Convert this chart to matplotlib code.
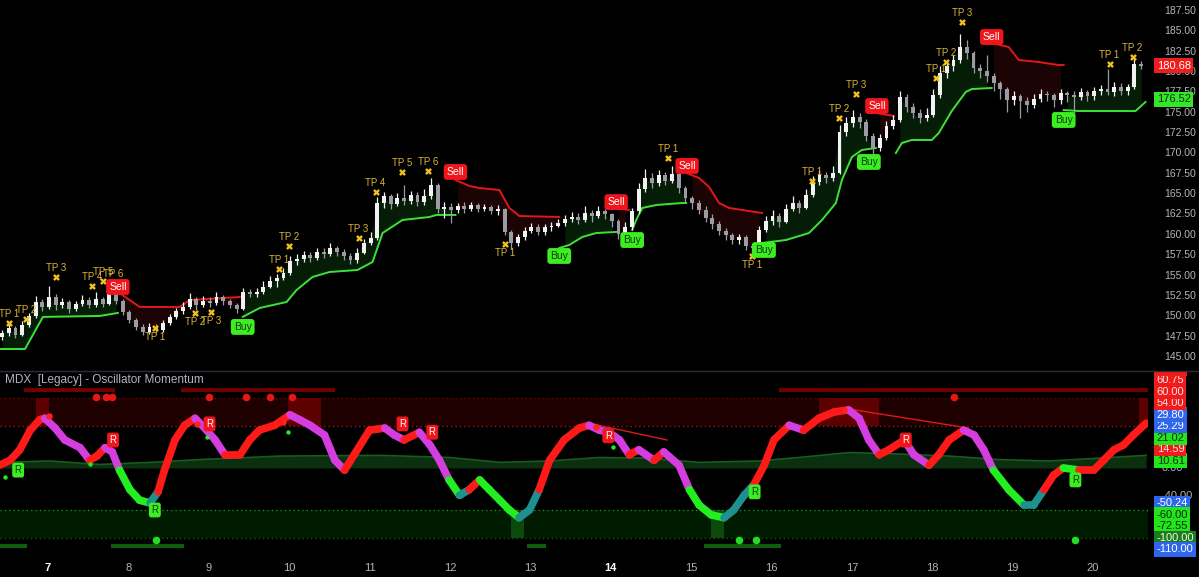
import numpy as np
import matplotlib
matplotlib.use("Agg")
import matplotlib.pyplot as plt
from matplotlib.collections import LineCollection
from matplotlib.transforms import Bbox, blended_transform_factory

plt.rcParams['font.family'] = ['Liberation Sans', 'DejaVu Sans']

# ---- price data (12 bars per day) ----
bars_per_day = 12
first_bar = 6.43
close = [147.8,148.4,147.6,148.8,149.9,151.6,151.0,152.2,151.2,151.6,
         150.8,151.4,151.9,151.3,152.0,151.4,152.6,151.8,150.4,149.4,
         148.6,148.0,148.5,148.2,149.0,149.8,150.5,151.0,152.0,151.2,
         151.8,151.5,152.2,151.8,151.2,150.8,152.8,152.6,152.9,153.5,
         154.2,154.6,155.2,156.7,156.9,157.4,157.0,157.8,157.5,158.2,
         157.8,157.3,156.8,157.6,158.9,159.5,163.8,164.6,163.7,164.4,
         164.0,164.8,163.9,164.6,166.0,163.0,163.3,162.9,163.4,163.0,
         163.5,163.1,163.3,162.8,163.0,160.2,158.9,159.6,160.4,160.9,
         160.2,160.8,161.0,161.3,161.8,162.1,161.7,162.5,162.2,162.8,
         162.4,161.6,160.0,160.9,162.8,165.5,166.8,166.3,167.2,166.5,
         167.4,165.6,164.4,163.8,162.9,162.0,161.2,160.4,159.8,159.2,
         159.6,158.5,158.2,160.5,161.6,162.2,161.5,163.0,163.8,163.2,
         164.8,166.4,167.2,166.8,167.5,172.5,173.6,174.3,173.8,172.0,
         170.6,171.8,173.3,174.0,176.8,175.6,174.8,174.2,174.6,177.0,
         179.8,180.6,181.4,183.0,182.2,180.4,180.0,179.4,178.5,177.8,
         176.5,176.9,176.3,175.8,176.6,177.2,177.0,176.4,177.3,177.0,
         176.8,177.4,176.9,177.5,177.8,177.4,178.1,177.6,178.0,180.9,
         180.68]
high = [148.2,148.9,148.7,149.3,150.3,152.4,152.0,153.6,152.6,152.1,
        151.9,151.8,152.5,152.2,152.8,152.3,153.3,153.0,152.0,150.6,
        149.7,148.9,149.0,148.9,149.4,150.2,150.9,151.6,152.7,152.3,
        152.4,152.2,152.8,152.5,152.0,151.5,153.4,153.2,153.4,154.2,
        154.8,155.1,155.8,157.3,157.5,157.9,157.8,158.3,158.2,158.9,
        158.5,158.1,157.6,158.2,159.4,160.2,164.5,165.2,164.9,165.0,
        166.0,165.3,165.2,165.5,166.9,166.3,163.9,163.8,163.8,163.9,
        163.9,163.8,163.7,163.6,163.5,163.2,160.5,160.0,160.9,161.3,
        161.2,161.2,161.5,161.8,162.3,162.7,162.5,163.4,162.9,163.4,
        163.0,162.6,161.8,161.4,163.2,166.3,168.0,167.5,167.9,167.6,
        168.3,167.7,165.9,164.7,164.1,163.4,162.4,161.6,160.7,160.1,
        160.0,159.9,158.9,161.0,162.2,162.9,162.6,163.7,164.7,164.2,
        165.5,167.1,167.9,167.6,168.3,173.4,174.3,175.2,174.8,174.1,
        172.4,172.3,173.9,174.6,177.5,177.2,176.1,175.3,175.4,177.8,
        180.6,181.3,182.0,184.6,183.8,182.5,180.9,182.0,179.8,178.8,
        178.1,177.6,177.2,176.8,177.2,177.8,177.6,177.3,177.8,177.6,
        177.5,177.9,177.7,178.0,178.3,180.2,178.6,178.5,178.4,181.6,
        181.2]
low = [146.9,147.5,147.2,147.4,148.5,149.7,150.5,150.8,150.7,150.9,
       150.3,150.5,151.1,150.9,151.0,151.0,151.2,151.4,150.0,149.0,
       148.2,147.6,147.7,147.8,147.9,148.8,149.5,150.2,150.8,150.6,
       151.0,151.0,151.3,151.3,150.9,150.3,150.6,152.2,152.3,152.6,
       153.3,153.5,154.3,154.9,156.2,156.5,156.5,156.8,157.0,157.3,
       157.3,156.8,156.3,156.4,157.5,158.6,159.3,163.2,163.0,163.4,
       163.6,163.7,163.4,163.5,164.3,162.6,162.0,161.3,162.5,162.6,
       162.8,162.7,162.8,162.4,162.3,159.8,158.1,158.5,159.2,160.1,
       159.8,159.9,160.4,160.8,161.0,161.5,161.2,161.4,161.5,162.0,
       161.8,160.8,159.4,159.7,160.5,162.6,165.2,165.6,165.9,166.0,
       166.2,165.0,163.8,163.0,162.4,161.5,160.6,159.8,159.2,158.7,
       158.8,158.0,157.5,157.9,160.2,161.1,160.9,161.3,162.8,162.6,
       163.0,164.5,166.0,166.2,166.5,167.3,172.0,173.1,173.0,171.4,
       169.8,170.2,171.5,172.9,173.8,175.0,174.2,173.6,173.9,174.3,
       176.7,179.2,180.0,181.0,181.5,179.8,179.2,178.6,177.5,176.6,
       175.0,175.8,174.2,175.0,175.4,176.2,176.3,175.6,176.0,176.2,
       174.8,176.4,176.3,176.5,177.0,177.0,176.9,177.0,177.1,177.8,
       180.2]
first_open = 147.3

# trailing stop segments (day, price)
green_segs = [
    ([6.404, 6.715, 6.938, 7.646, 7.870], [145.85, 145.85, 149.79, 149.91, 150.28]),
    ([9.423, 9.634, 9.969, 10.093, 10.292, 10.503, 10.851, 11.038, 11.162, 11.410, 11.746, 11.833, 12.069],
     [149.79, 150.89, 151.63, 153.10, 154.70, 155.31, 155.56, 156.54, 160.10, 161.70, 162.07, 162.32, 162.32]),
    ([13.360, 13.485, 13.646, 13.820, 14.068], [158.26, 158.63, 159.61, 160.10, 160.23]),
    ([14.267, 14.317, 14.392, 14.566, 14.888, 14.938], [160.47, 161.70, 163.18, 163.54, 163.79, 163.79]),
    ([15.882, 16.180, 16.466, 16.628, 16.801, 16.876, 17.000, 17.124, 17.298],
     [158.88, 159.24, 160.10, 161.70, 163.79, 166.62, 169.44, 170.30, 170.55]),
    ([17.547, 17.621, 17.745, 17.994, 18.081, 18.242, 18.416, 18.491, 18.739],
     [169.93, 171.16, 171.53, 171.53, 172.39, 175.09, 177.43, 177.79, 177.92]),
    ([19.634, 19.820, 20.528, 20.652], [175.21, 175.09, 175.09, 176.20]),
]
red_segs = [
    ([7.870, 8.143, 8.640, 8.764, 9.385], [152.86, 151.01, 151.01, 151.87, 152.24]),
    ([12.069, 12.243, 12.367, 12.615, 12.740, 12.864, 13.360], [166.62, 165.88, 165.63, 165.39, 163.18, 162.19, 162.07]),
    ([14.068, 14.230], [163.18, 162.93]),
    ([14.938, 15.100, 15.224, 15.348, 15.472, 15.882], [167.48, 166.86, 165.76, 163.79, 163.18, 162.56]),
    ([17.298, 17.522], [174.85, 174.48]),
    ([18.739, 18.951, 19.075, 19.323, 19.572, 19.634], [183.45, 182.95, 181.36, 181.11, 180.74, 180.74]),
]

sell_day = [7.870, 12.069, 14.068, 14.950, 17.311, 18.739]
sell_px = [153.47, 167.60, 163.90, 168.34, 175.70, 184.18]
buy_day = [9.423, 13.360, 14.267, 15.907, 17.211, 19.634]
buy_px = [148.56, 157.28, 159.24, 158.02, 168.83, 173.99]

tp_day = [6.516, 6.727, 7.100, 7.547, 7.684, 7.808, 8.330, 8.826, 9.025, 9.870, 9.994, 10.864,
          11.075, 11.410, 11.733, 12.690, 14.715, 15.758, 16.503, 16.839, 17.050, 18.044,
          18.168, 18.367, 20.205, 20.491]
tp_px = [149.05, 149.54, 154.70, 153.59, 154.21, 153.96, 148.43, 150.28, 150.40, 155.68, 158.51,
         159.49, 165.14, 167.60, 167.72, 158.75, 169.32, 157.28, 166.49, 174.23, 177.18, 179.15,
         181.11, 186.03, 180.87, 181.73]
tp_num = [1, 2, 3, 4, 5, 6, 1, 2, 3, 1, 2, 3, 4, 5, 6, 1, 1, 1, 1, 2, 3, 1, 2, 3, 1, 2]
tp_above = [1, 1, 1, 1, 1, 1, 0, 0, 0, 1, 1, 1, 1, 1, 1, 0, 1, 0, 1, 1, 1, 1, 1, 1, 1, 1]

last_price = 180.68
stop_price = 176.52

# ---- oscillator data ----
osc_day = [6.40,6.53,6.65,6.78,6.90,6.96,7.09,7.21,7.40,7.52,7.61,7.71,7.80,7.89,8.02,8.14,8.27,8.37,8.45,8.58,
           8.70,8.83,8.95,9.08,9.20,9.39,9.51,9.63,9.82,10.01,10.13,10.26,10.44,10.57,10.69,10.81,11.00,11.19,11.31,11.43,
           11.62,11.75,11.87,11.99,12.12,12.24,12.37,12.49,12.62,12.74,12.86,12.99,13.11,13.24,13.42,13.61,13.73,13.86,13.98,14.11,
           14.23,14.35,14.54,14.66,14.85,14.98,15.10,15.25,15.41,15.53,15.66,15.78,15.91,16.03,16.22,16.40,16.59,16.78,16.96,17.09,
           17.21,17.34,17.46,17.65,17.77,17.96,18.08,18.21,18.39,18.52,18.64,18.76,18.95,19.14,19.26,19.39,19.51,19.63,19.82,20.01,
           20.13,20.26,20.38,20.50,20.66]
osc_val = [4,11,26,54,69,71,57,40,29,11,17,29,23,-3,-31,-46,-50,-34,-3,40,
           61,71,57,40,19,19,40,54,61,76,69,61,47,11,-3,19,54,57,47,40,
           51,33,11,-17,-39,-31,-17,-31,-46,-60,-71,-60,-31,11,40,57,61,54,51,40,
           19,26,11,23,4,-31,-53,-67,-71,-60,-39,-24,4,40,61,54,71,80,83,71,
           40,19,26,40,19,4,19,40,54,47,26,-3,-31,-53,-53,-31,-10,0,-3,-3,
           11,26,33,47,64]

ma_day = [6.40,7.02,7.65,8.27,8.89,9.89,11.13,11.99,12.62,13.24,13.86,14.48,15.10,15.85,16.34,16.96,17.58,18.21,18.83,19.45,20.07,20.66]
ma_val = [8,10,5,8,12,17,18,15,8,10,15,14,8,10,15,22,20,17,12,10,14,18]

top_bars = [(6.70, 7.83), (8.66, 10.57), (16.09, 20.68)]
bot_bars = [(6.40, 6.74), (7.78, 8.69), (12.96, 13.20), (15.16, 16.12)]
red_boxes = [(6.85, 7.01), (9.98, 10.40), (16.59, 17.34), (20.57, 20.68)]
green_boxes = [(12.76, 12.92), (15.25, 15.41)]
big_red_dots = [7.60, 7.72, 7.80, 9.00, 9.46, 9.76, 10.04, 18.27]
big_green_dots = [8.34, 15.60, 15.81, 19.78]
small_red_day = [7.01, 8.85, 9.92, 13.82, 16.90]
small_red_val = [74, 63, 66, 59, 83]
small_green_day = [6.47, 7.52, 8.98, 9.99, 14.03]
small_green_val = [-13, 6, 44, 51, 30]
r_bear_day = [7.81, 9.01, 11.41, 11.78, 13.97, 17.67]
r_bear_val = [40, 63, 63, 51, 46, 40]
r_bull_day = [6.63, 8.33, 15.79, 19.78]
r_bull_val = [-3, -60, -34, -17]
div_lines = [((13.77, 14.70), (63, 40)), ((17.03, 18.45), (83, 57))]

osc_tags = [(63.75, 'red'), (60.75, 'red'), (60.00, 'red'), (54.00, 'red'), (29.80, 'blue'),
            (25.29, 'blue'), (21.02, 'green'), (14.59, 'red'), (10.61, 'green'), (-50.24, 'blue'),
            (-60.00, 'green'), (-72.55, 'green'), (-100.00, 'dkgreen'), (-110.00, 'blue')]
tag_style = {'red': ('#f01c1c', '#ffe0e0'), 'blue': ('#2f66ee', '#ffffff'),
             'green': ('#22e61c', '#0b2a0b'), 'dkgreen': ('#1d7a1d', '#e8ffe8')}

days = list(range(7, 21))

# ---- figure ----
W, H = 1199, 577
fig = plt.figure(figsize=(W / 100, H / 100), dpi=100, facecolor='black')
ax1 = fig.add_axes([0, 1 - 370 / H, 1148 / W, 370 / H])
ax2 = fig.add_axes([0, 1 - 555 / H, 1148 / W, 183 / H])
for ax in (ax1, ax2):
    ax.set_facecolor('black')
    for s in ax.spines.values():
        s.set_visible(False)
    ax.set_xlim(6.404, 20.683)
ax1.set_ylim(143.27, 188.73)
ax2.set_ylim(-124.3, 137.1)

gray = '#b2b5be'
t = first_bar + np.arange(len(close)) / bars_per_day
c = np.array(close)
o = np.array([first_open] + close[:-1])
h = np.array(high)
l = np.array(low)

# fills between stop line and price
for segs, col in ((green_segs, '#0f4a12'), (red_segs, '#4a0c0c')):
    for xs, ys in segs:
        m = (t >= xs[0]) & (t <= xs[-1])
        if m.sum() < 2:
            continue
        tr = np.interp(t[m], xs, ys)
        ax1.fill_between(t[m], tr, c[m], color=col, alpha=0.4, lw=0, zorder=1)

for xs, ys in green_segs:
    ax1.plot(xs, ys, color='#3ee03a', lw=1.4, zorder=3)
for xs, ys in red_segs:
    ax1.plot(xs, ys, color='#e3161a', lw=1.4, zorder=3)

# candles
up = c >= o
cols = np.where(up, '#f2f2f2', '#9a9ca3')
ax1.vlines(t, l, h, colors=cols, lw=0.9, zorder=4)
ax1.bar(t, np.maximum(np.abs(c - o), 0.12), bottom=np.minimum(o, c), width=0.048,
        color=cols, lw=0, zorder=5)

# signals
for d, p in zip(sell_day, sell_px):
    ax1.text(d, p, 'Sell', color='white', fontsize=7.5, ha='center', va='center', zorder=8,
             bbox=dict(boxstyle='round,pad=0.28', fc='#f0151a', ec='none'))
for d, p in zip(buy_day, buy_px):
    ax1.text(d, p, 'Buy', color='#0c3a0c', fontsize=7.5, ha='center', va='center', zorder=8,
             bbox=dict(boxstyle='round,pad=0.28', fc='#3ded22', ec='none'))
ax1.scatter(tp_day, tp_px, marker='X', s=24, color='#f2c21b', lw=0, zorder=7)
for d, p, n, a in zip(tp_day, tp_px, tp_num, tp_above):
    off = 1.1 if a else -1.15
    ax1.text(d, p + off, f'TP {n}', color='#dcb43a', fontsize=7, ha='center', va='center', zorder=7)

ax1.yaxis.tick_right()
yt = np.arange(145, 188, 2.5)
ax1.set_yticks(yt)
ax1.set_yticklabels([f'{v:.2f}' for v in yt])
ax1.tick_params(axis='y', colors=gray, labelsize=7.5, length=0, pad=12)
ax1.set_xticks([])
tr1 = blended_transform_factory(ax1.transAxes, ax1.transData)
ax1.text(1.0075, last_price, f'{last_price:.2f}', transform=tr1, color='white', fontsize=8,
         ha='left', va='center', bbox=dict(boxstyle='square,pad=0.2', fc='#f01c1c', ec='none'), zorder=9)
ax1.text(1.0075, stop_price, f'{stop_price:.2f}', transform=tr1, color='#0b2a0b', fontsize=8,
         ha='left', va='center', bbox=dict(boxstyle='square,pad=0.2', fc='#33e62a', ec='none'), zorder=9)

# ---- oscillator pane ----
ax2.axhspan(60, 100, color='#1f0000', lw=0, zorder=0)
ax2.axhspan(-100, -60, color='#001c00', lw=0, zorder=0)
for a, b in red_boxes:
    ax2.fill_between([a, b], 60, 100, color='#5c0000', lw=0, zorder=0.5)
for a, b in green_boxes:
    ax2.fill_between([a, b], -100, -60, color='#0b4a0b', lw=0, zorder=0.5)
for v, col in ((100, '#7a0000'), (60, '#c01818'), (-60, '#1aa01a'), (-100, '#0e6a0e')):
    ax2.axhline(v, color=col, lw=0.9, ls=(0, (1, 2.5)), zorder=1)
for a, b in top_bars:
    ax2.plot([a, b], [112, 112], color='#6e0000', lw=3, solid_capstyle='butt', zorder=1)
for a, b in bot_bars:
    ax2.plot([a, b], [-111, -111], color='#0d5e0d', lw=3, solid_capstyle='butt', zorder=1)

ax2.fill_between(ma_day, 0, ma_val, color='#0b3010', lw=0, zorder=1)
ax2.plot(ma_day, ma_val, color='#1c5a20', lw=1.2, zorder=1.5)

for (xs, ys) in div_lines:
    ax2.plot(xs, ys, color='#e01818', lw=1, zorder=2)

ov = np.array(osc_val, float)
od = np.array(osc_day)
segs = []
scol = []
for i in range(len(od) - 1):
    segs.append([(od[i], ov[i]), (od[i + 1], ov[i + 1])])
    if ov[i + 1] >= ov[i]:
        scol.append('#1f9090' if ov[i + 1] < -20 else '#ff1a1a')
    else:
        scol.append('#d43ee0' if ov[i] > 0 else '#22ee22')
ax2.add_collection(LineCollection(segs, colors=scol, linewidths=5.5, capstyle='round', zorder=3))

ax2.scatter(big_red_dots, [101] * len(big_red_dots), s=30, color='#e81515', lw=0, zorder=4)
ax2.scatter(big_green_dots, [-103] * len(big_green_dots), s=30, color='#22dd22', lw=0, zorder=4)
ax2.scatter(small_red_day, small_red_val, s=22, color='#ff2020', lw=0, zorder=4)
ax2.scatter(small_green_day, small_green_val, s=10, color='#22ee22', lw=0, zorder=4)
for d, v in zip(r_bear_day, r_bear_val):
    ax2.text(d, v, 'R', color='white', fontsize=7, ha='center', va='center', zorder=6,
             bbox=dict(boxstyle='round,pad=0.25', fc='#f0151a', ec='none'))
for d, v in zip(r_bull_day, r_bull_val):
    ax2.text(d, v, 'R', color='#0c3a0c', fontsize=7, ha='center', va='center', zorder=6,
             bbox=dict(boxstyle='round,pad=0.25', fc='#3ded22', ec='none'))

ax2.text(0.004, 0.955, 'MDX  [Legacy] - Oscillator Momentum', transform=ax2.transAxes,
         color=gray, fontsize=8.5, ha='left', va='center')

ax2.set_yticks([])
ax2.set_xticks(days)
ax2.set_xticklabels([str(d) for d in days])
ax2.tick_params(axis='x', colors=gray, labelsize=8, length=0, pad=6)
for lab in ax2.get_xticklabels():
    if lab.get_text() in ('7', '14'):
        lab.set_color('white')
        lab.set_fontweight('bold')

# right side value tags, stacked like the platform does
tr2 = blended_transform_factory(ax2.transAxes, ax2.transData)
inv = ax2.transData.inverted()
clip = Bbox([[ax2.bbox.x0, ax2.bbox.y0 - 30], [W, ax2.bbox.y1]])
for v in (0, -40):
    ax2.text(1.012, v, f'{v:.2f}', transform=tr2, color=gray, fontsize=8, ha='left', va='center', zorder=1)
gap = 11.5
pos = sorted([g for g in osc_tags if g[0] >= 0], key=lambda g: g[0])
neg = sorted([g for g in osc_tags if g[0] < 0], key=lambda g: -g[0])
placed = []
prev = None
for v, k in pos:
    yd = ax2.transData.transform((0, v))[1]
    if prev is not None:
        yd = max(yd, prev + gap)
    prev = yd
    placed.append((v, k, inv.transform((0, yd))[1]))
prev = None
for v, k in neg:
    yd = ax2.transData.transform((0, v))[1]
    if prev is not None:
        yd = min(yd, prev - gap)
    prev = yd
    placed.append((v, k, inv.transform((0, yd))[1]))
for v, k, yy in placed:
    fc, tc = tag_style[k]
    txt = ax2.text(1.0075, yy, f'{v:.2f}', transform=tr2, color=tc, fontsize=8, ha='left', va='center',
                   bbox=dict(boxstyle='square,pad=0.2', fc=fc, ec='none'), zorder=9)
    txt.set_clip_box(clip)
    txt.set_clip_on(True)

fig.add_artist(plt.Line2D([0, 1], [1 - 371 / H, 1 - 371 / H], color='#2a2e39', lw=1))

fig.savefig('out.png', dpi=100, facecolor='black')
